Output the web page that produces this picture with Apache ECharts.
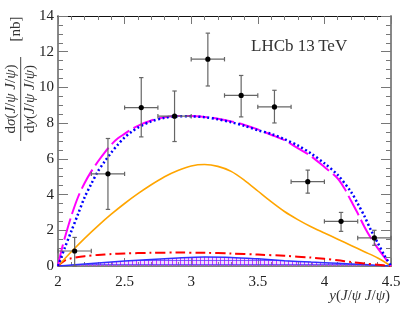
<!DOCTYPE html>
<html><head><meta charset="utf-8">
<script src="https://cdn.jsdelivr.net/npm/echarts@6/dist/echarts.min.js"></script>
<style>html,body{margin:0;padding:0;background:#fff}#c{width:412px;height:318px}</style>
</head><body><div id="c"></div>
<script>
// ---- data ----
var binCenters = [2.125, 2.375, 2.625, 2.875, 3.125, 3.375, 3.625, 3.875, 4.125, 4.375];
var binHalfWidth = [0.125, 0.125, 0.125, 0.125, 0.125, 0.125, 0.125, 0.125, 0.125, 0.125];
var dataValues = [0.84, 5.16, 8.87, 8.39, 11.58, 9.55, 8.91, 4.72, 2.5, 1.57];
var dataErrHigh = [1.6, 7.14, 10.55, 9.8, 13.04, 10.67, 9.84, 5.37, 3.0, 2.0];
var dataErrLow = [0.0, 3.17, 7.23, 6.97, 10.08, 8.35, 8.01, 4.08, 1.94, 1.16];

var magentaX = [2.0, 2.02, 2.05, 2.1, 2.15, 2.2, 2.25, 2.3, 2.35, 2.4, 2.45, 2.5, 2.55, 2.6, 2.7, 2.8, 2.9, 3.0, 3.1, 3.2, 3.3, 3.4, 3.5, 3.6, 3.7, 3.8, 3.9, 4.0, 4.1, 4.15, 4.2, 4.25, 4.3, 4.35, 4.4, 4.45, 4.5];
var magentaY = [0, 0.7, 1.55, 2.8, 3.85, 4.65, 5.3, 5.85, 6.35, 6.8, 7.15, 7.4, 7.65, 7.85, 8.15, 8.33, 8.4, 8.4, 8.35, 8.25, 8.1, 7.9, 7.65, 7.35, 7.05, 6.6, 6.15, 5.55, 4.9, 4.35, 3.65, 2.95, 2.2, 1.55, 1.0, 0.5, 0];

var blueX = [2.0, 2.05, 2.1, 2.15, 2.2, 2.25, 2.3, 2.35, 2.4, 2.45, 2.5, 2.55, 2.6, 2.7, 2.8, 2.9, 3.0, 3.1, 3.2, 3.3, 3.4, 3.5, 3.6, 3.7, 3.8, 3.9, 4.0, 4.1, 4.2, 4.25, 4.3, 4.35, 4.4, 4.45, 4.5];
var blueY = [0, 1.0, 1.95, 2.9, 3.85, 4.6, 5.3, 5.85, 6.35, 6.8, 7.2, 7.5, 7.75, 8.1, 8.3, 8.38, 8.38, 8.33, 8.22, 8.05, 7.85, 7.6, 7.4, 7.1, 6.75, 6.3, 5.75, 5.1, 4.15, 3.5, 2.8, 2.0, 1.3, 0.6, 0];

var orangeX = [2.0, 2.1, 2.2, 2.3, 2.4, 2.5, 2.6, 2.7, 2.8, 2.9, 3.0, 3.1, 3.2, 3.3, 3.4, 3.5, 3.6, 3.7, 3.8, 3.9, 4.0, 4.1, 4.2, 4.3, 4.4, 4.5];
var orangeY = [0, 0.8, 1.55, 2.25, 2.9, 3.5, 4.05, 4.55, 5.0, 5.35, 5.6, 5.68, 5.58, 5.3, 4.8, 4.2, 3.6, 3.05, 2.6, 2.2, 1.85, 1.5, 1.15, 0.8, 0.45, 0];

var redX = [2.0, 2.03, 2.06, 2.1, 2.2, 2.3, 2.4, 2.5, 2.7, 2.9, 3.1, 3.3, 3.5, 3.7, 3.9, 4.0, 4.1, 4.2, 4.3, 4.4, 4.5];
var redY = [0, 0.2, 0.35, 0.43, 0.55, 0.62, 0.67, 0.7, 0.74, 0.75, 0.74, 0.7, 0.64, 0.57, 0.47, 0.4, 0.32, 0.22, 0.14, 0.07, 0];

var bandX = [2.0, 2.1, 2.3, 2.5, 2.7, 2.9, 3.1, 3.3, 3.5, 3.7, 3.9, 4.1, 4.3, 4.5];
var bandY = [0, 0.06, 0.17, 0.28, 0.37, 0.45, 0.5, 0.48, 0.4, 0.3, 0.22, 0.15, 0.08, 0];

var xTickLabels = ['2', '2.5', '3', '3.5', '4', '4.5'];
var yTickLabels = ['0', '2', '4', '6', '8', '10', '12', '14'];

function pairs(xs, ys) { return xs.map(function (x, i) { return [x, ys[i]]; }); }

// hatch pattern
var pc = document.createElement('canvas');
pc.width = 4; pc.height = 4;
var g = pc.getContext('2d');
g.fillStyle = 'rgba(190,120,255,0.25)'; g.fillRect(0, 0, 4, 4);
g.fillStyle = '#cc33ff'; g.fillRect(0, 0, 1, 4);
g.fillStyle = 'rgba(90,60,255,0.8)'; g.fillRect(0, 0, 4, 1);

var SERIF = '"Liberation Serif","DejaVu Serif",serif';
var chart = echarts.init(document.getElementById('c'), null, { renderer: 'canvas' });

function xAxisCfg(pos, showLabels, lineColor, lineWidth) {
  return {
    type: 'value', min: 2, max: 4.5, interval: 0.5, position: pos,
    axisLine: { show: true, onZero: false, lineStyle: { color: lineColor, width: lineWidth } },
    axisTick: { show: true, inside: true, length: 8, lineStyle: { color: '#777', width: 1 } },
    minorTick: { show: true, splitNumber: 5, length: 4, lineStyle: { color: '#777', width: 1 } },
    axisLabel: {
      show: showLabels, margin: 9, fontFamily: SERIF, fontSize: 15, color: '#222',
      formatter: function (v) { return xTickLabels[Math.round((v - 2) / 0.5)]; }
    },
    splitLine: { show: false }
  };
}
function yAxisCfg(pos, showLabels) {
  return {
    type: 'value', min: 0, max: 14, interval: 2, position: pos,
    axisLine: { show: true, onZero: false, lineStyle: { color: '#888', width: 2 } },
    axisTick: { show: true, inside: true, length: 10, lineStyle: { color: '#777', width: 1 } },
    minorTick: { show: true, splitNumber: 4, length: 5, lineStyle: { color: '#777', width: 1 } },
    axisLabel: {
      show: showLabels, margin: 4, fontFamily: SERIF, fontSize: 15, color: '#222',
      formatter: function (v) { return yTickLabels[Math.round(v / 2)]; }
    },
    splitLine: { show: false }
  };
}

var richStyles = {
  n: { fontFamily: SERIF, fontSize: 15, fill: '#333' },
  i: { fontFamily: SERIF, fontSize: 15, fontStyle: 'italic', fill: '#333' }
};

var option = {
  animation: false,
  backgroundColor: '#fff',
  grid: { left: 58, right: 21, top: 16, bottom: 52, containLabel: false },
  xAxis: [xAxisCfg('bottom', true, '#555', 1.5), xAxisCfg('top', false, '#111', 1)],
  yAxis: [yAxisCfg('left', true), yAxisCfg('right', false)],
  series: [
    {
      type: 'line', data: pairs(bandX, bandY), smooth: 0.3, showSymbol: false, z: 2,
      lineStyle: { color: '#3030ff', width: 1.5 },
      areaStyle: { color: { image: pc, repeat: 'repeat' }, opacity: 1 }
    },
    {
      type: 'line', data: pairs(redX, redY), smooth: 0.3, showSymbol: false, z: 3,
      lineStyle: { color: '#ff0000', width: 2, type: [10, 4, 2, 4] }
    },
    {
      type: 'line', data: pairs(orangeX, orangeY), smooth: 0.3, showSymbol: false, z: 3,
      lineStyle: { color: '#ffa500', width: 1.6 }
    },
    {
      type: 'line', data: pairs(magentaX, magentaY), smooth: 0.3, showSymbol: false, z: 3,
      lineStyle: { color: '#ff00ff', width: 2, type: [22, 5] }
    },
    {
      type: 'line', data: pairs(blueX, blueY), smooth: 0.3, showSymbol: false, z: 4,
      lineStyle: { color: '#0000ff', width: 2.5, type: [2, 2.5] }
    },
    {
      type: 'custom', z: 5,
      data: binCenters.map(function (x, i) { return [x, dataValues[i], dataErrLow[i], dataErrHigh[i], binHalfWidth[i]]; }),
      renderItem: function (params, api) {
        var x = api.value(0), y = api.value(1), lo = api.value(2), hi = api.value(3), hw = api.value(4);
        var pc0 = api.coord([x, y]);
        var pLo = api.coord([x, lo]), pHi = api.coord([x, hi]);
        var pL = api.coord([x - hw, y]), pR = api.coord([x + hw, y]);
        var st = { stroke: '#666', lineWidth: 1.2 };
        var c = 2.2;
        return {
          type: 'group', children: [
            { type: 'line', shape: { x1: pLo[0], y1: pLo[1], x2: pHi[0], y2: pHi[1] }, style: st },
            { type: 'line', shape: { x1: pL[0], y1: pL[1], x2: pR[0], y2: pR[1] }, style: st },
            { type: 'line', shape: { x1: pHi[0] - c, y1: pHi[1], x2: pHi[0] + c, y2: pHi[1] }, style: st },
            { type: 'line', shape: { x1: pLo[0] - c, y1: pLo[1], x2: pLo[0] + c, y2: pLo[1] }, style: st },
            { type: 'line', shape: { x1: pL[0], y1: pL[1] - c, x2: pL[0], y2: pL[1] + c }, style: st },
            { type: 'line', shape: { x1: pR[0], y1: pR[1] - c, x2: pR[0], y2: pR[1] + c }, style: st },
            { type: 'circle', shape: { cx: pc0[0], cy: pc0[1], r: 2.6 }, style: { fill: '#000' } }
          ]
        };
      }
    }
  ],
  graphic: [
    {
      type: 'text', left: 251, top: 38,
      style: { text: 'LHCb 13\u2009TeV', font: '17px ' + SERIF, fill: '#333' }
    },
    {
      type: 'text', right: 22, top: 289,
      style: {
        text: '{i|y}{n|(}{i|J}{n|/}{i|ψ}{n| }{i|J}{n|/}{i|ψ}{n|)}',
        rich: richStyles, font: '15px ' + SERIF, fill: '#333'
      }
    },
    {
      type: 'group', x: 20.7, y: 99, rotation: Math.PI / 2,
      children: [
        {
          type: 'text', x: 0, y: -2,
          style: {
            text: '{n|d}{i|σ}{n|(}{i|J}{n|/}{i|ψ}{n| }{i|J}{n|/}{i|ψ}{n|)}',
            rich: richStyles, align: 'center', verticalAlign: 'bottom', font: '15px ' + SERIF, fill: '#333'
          }
        },
        { type: 'line', shape: { x1: -42, y1: 0, x2: 42, y2: 0 }, style: { stroke: '#444', lineWidth: 1 } },
        {
          type: 'text', x: 0, y: 2,
          style: {
            text: '{n|d}{i|y}{n|(}{i|J}{n|/}{i|ψ}{n| }{i|J}{n|/}{i|ψ}{n|)}',
            rich: richStyles, align: 'center', verticalAlign: 'top', font: '15px ' + SERIF, fill: '#333'
          }
        },
        {
          type: 'text', x: 70, y: -5,
          style: { text: '[nb]', align: 'center', verticalAlign: 'middle', font: '15px ' + SERIF, fill: '#333' }
        }
      ]
    }
  ]
};
chart.setOption(option);
</script>
</body></html>
